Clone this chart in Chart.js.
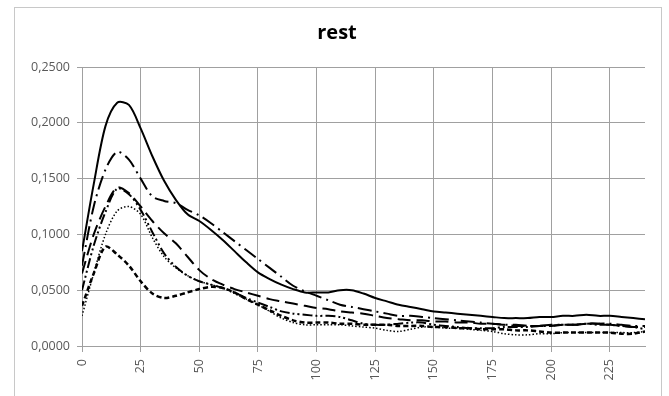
<!DOCTYPE html>
<html>
<head>
<meta charset="utf-8">
<script src="https://cdn.jsdelivr.net/npm/chart.js@4.4.0/dist/chart.umd.min.js"></script>
<style>
  body { margin: 0; background: #fff; }
  #wrap { width: 669px; height: 396px; }
</style>
</head>
<body>
<div id="wrap"><canvas id="myChart" width="669" height="396"></canvas></div>
<script>
// x positions (every 5 units)
const xValues = [0,5,10,15,20,25,30,35,40,45,50,55,60,65,70,75,80,85,90,95,100,105,110,115,120,
  125,130,135,140,145,150,155,160,165,170,175,180,185,190,195,200,205,210,215,220,225,230,235,240];

const solidLine = [0.085,0.145,0.197,0.218,0.216,0.195,0.170,0.148,0.131,0.118,0.112,0.104,0.095,0.085,0.075,
  0.066,0.060,0.055,0.051,0.048,0.048,0.048,0.050,0.050,0.047,0.043,0.040,0.037,0.035,0.033,0.031,0.030,
  0.029,0.028,0.027,0.026,0.025,0.025,0.025,0.026,0.026,0.027,0.027,0.028,0.027,0.027,0.026,0.025,0.024];

const dashDotLine = [0.072,0.125,0.158,0.174,0.167,0.150,0.134,0.130,0.128,0.122,0.117,0.110,0.102,0.094,0.086,
  0.078,0.070,0.062,0.054,0.049,0.045,0.041,0.037,0.035,0.033,0.031,0.029,0.027,0.027,0.026,0.025,0.024,
  0.023,0.022,0.021,0.020,0.019,0.019,0.018,0.018,0.019,0.019,0.019,0.020,0.020,0.020,0.019,0.018,0.018];

const longDashLine = [0.065,0.100,0.125,0.142,0.137,0.125,0.112,0.101,0.092,0.080,0.068,0.060,0.055,0.051,0.048,
  0.045,0.042,0.040,0.038,0.036,0.034,0.033,0.031,0.030,0.029,0.027,0.025,0.024,0.023,0.023,0.022,0.022,
  0.021,0.021,0.020,0.020,0.019,0.018,0.018,0.018,0.018,0.019,0.019,0.020,0.020,0.019,0.018,0.017,0.017];

const dashDotDotLine = [0.050,0.090,0.120,0.141,0.136,0.122,0.102,0.083,0.071,0.063,0.058,0.055,0.052,0.048,0.043,
  0.039,0.035,0.031,0.029,0.028,0.027,0.027,0.026,0.023,0.020,0.019,0.019,0.020,0.021,0.021,0.019,0.018,
  0.017,0.016,0.016,0.016,0.017,0.017,0.017,0.018,0.018,0.019,0.019,0.020,0.019,0.019,0.018,0.017,0.015];

const dottedLine = [0.027,0.065,0.100,0.121,0.125,0.118,0.097,0.080,0.070,0.063,0.058,0.055,0.052,0.047,0.042,
  0.037,0.031,0.025,0.021,0.019,0.019,0.019,0.019,0.018,0.017,0.016,0.014,0.013,0.015,0.017,0.017,0.016,
  0.016,0.015,0.014,0.013,0.011,0.010,0.010,0.011,0.011,0.012,0.012,0.012,0.012,0.012,0.012,0.012,0.013];

const shortDashLine = [0.036,0.065,0.089,0.082,0.072,0.058,0.047,0.043,0.045,0.048,0.051,0.053,0.052,0.048,0.042,
  0.037,0.032,0.027,0.023,0.021,0.021,0.021,0.020,0.020,0.019,0.019,0.019,0.018,0.018,0.018,0.017,0.017,
  0.016,0.016,0.015,0.015,0.015,0.014,0.014,0.013,0.012,0.012,0.012,0.012,0.012,0.012,0.011,0.011,0.013];

const chartTitle = 'rest';

function pts(arr) {
  return xValues.map((x, i) => ({ x: x, y: arr[i] }));
}

function makeSet(arr, dash, width) {
  return {
    data: pts(arr),
    borderColor: '#000',
    borderWidth: width,
    borderDash: dash,
    pointRadius: 0,
    fill: false,
    tension: 0.3
  };
}

// light grey frame round the whole chart
const frame = {
  id: 'frame',
  beforeDraw(c) {
    const ctx = c.ctx;
    ctx.save();
    ctx.strokeStyle = '#c8c8c8';
    ctx.lineWidth = 1;
    ctx.strokeRect(14.5, 7.5, 647, 420);
    ctx.restore();
  }
};

const gridGrey = '#a0a0a0';
const tickFont = { family: 'Open Sans', size: 12.5 };

let myChart = new Chart(document.getElementById('myChart').getContext('2d'), {
  type: 'line',
  data: {
    datasets: [
      makeSet(solidLine, [], 2),
      makeSet(dashDotLine, [14, 5, 2, 5], 2),
      makeSet(longDashLine, [13, 6], 2),
      makeSet(dashDotDotLine, [10, 3, 2, 3, 2, 3], 2),
      makeSet(dottedLine, [1.5, 2], 1.5),
      makeSet(shortDashLine, [5, 3], 2.5)
    ]
  },
  options: {
    responsive: false,
    animation: false,
    layout: { padding: { left: 29, right: 24, top: 0, bottom: 0 } },
    plugins: {
      legend: { display: false },
      tooltip: { enabled: false },
      title: {
        display: true,
        text: chartTitle,
        color: '#000',
        font: { family: 'Open Sans', size: 20, weight: 'bold', lineHeight: 1.2 },
        padding: { top: 21, bottom: 22 }
      }
    },
    scales: {
      x: {
        type: 'linear',
        min: 0,
        max: 240,
        afterFit(s) { s.height = 50; },
        ticks: {
          stepSize: 25,
          includeBounds: false,
          maxRotation: 90,
          minRotation: 90,
          color: '#595959',
          font: tickFont,
          padding: 7
        },
        grid: { color: gridGrey, tickLength: 6, drawOnChartArea: true },
        border: { color: gridGrey }
      },
      y: {
        min: 0,
        max: 0.25,
        afterFit(s) { s.width = 53; },
        ticks: {
          stepSize: 0.05,
          color: '#595959',
          font: tickFont,
          padding: 7,
          callback: v => v.toFixed(4).replace('.', ',')
        },
        grid: { color: gridGrey, tickLength: 5 },
        border: { color: gridGrey }
      }
    }
  },
  plugins: [frame]
});
</script>
</body>
</html>
